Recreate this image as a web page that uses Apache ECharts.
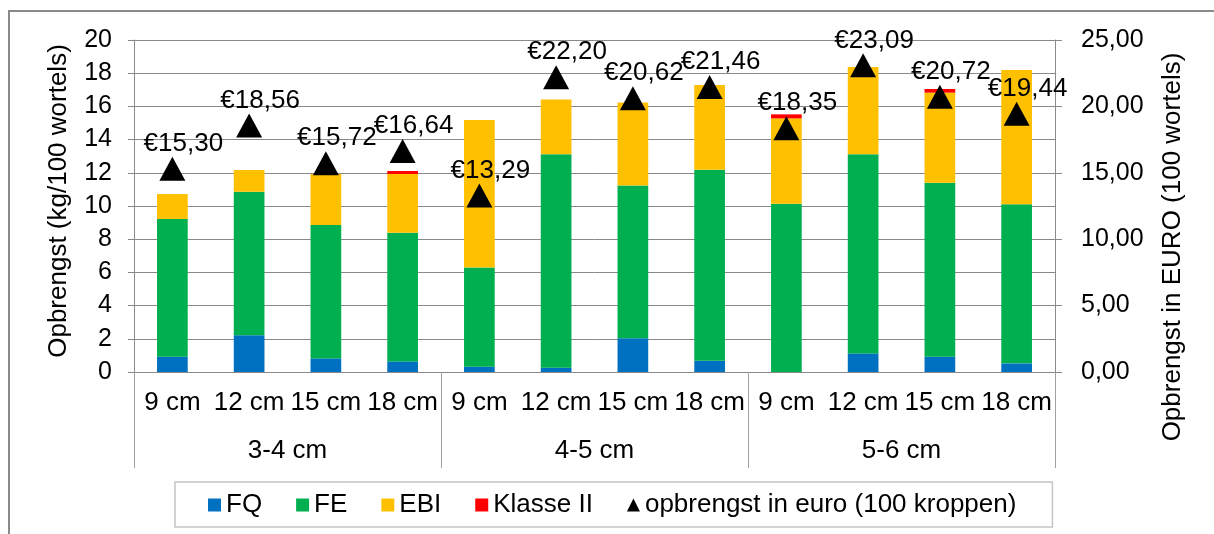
<!DOCTYPE html>
<html>
<head>
<meta charset="utf-8">
<script src="https://cdn.jsdelivr.net/npm/echarts@6/dist/echarts.min.js"></script>
<style>
  html, body { margin: 0; padding: 0; background: #fff; }
  #wrap { position: relative; width: 1214px; height: 534px; overflow: hidden; }
  #chart { position: absolute; left: 0; top: 0; width: 1214px; height: 534px; }
  #frame { position: absolute; left: 8px; top: 10px; width: 1400px; height: 700px;
           border-left: 2px solid #8a8a8a; border-top: 2px solid #8a8a8a; pointer-events: none; }
</style>
</head>
<body>
<div id="wrap"><div id="chart"></div><div id="frame"></div></div>
<script>
// ---- data ----
const subCategories = ['9 cm', '12 cm', '15 cm', '18 cm', '9 cm', '12 cm', '15 cm', '18 cm', '9 cm', '12 cm', '15 cm', '18 cm'];
const groupCategories = ['3-4 cm', '4-5 cm', '5-6 cm'];
const fqValues = [0.92, 2.21, 0.82, 0.64, 0.32, 0.26, 2.03, 0.68, 0.00, 1.12, 0.92, 0.52];
const feValues = [8.30, 8.65, 8.04, 7.75, 5.97, 12.85, 9.20, 11.51, 10.14, 11.99, 10.48, 9.58];
const ebiValues = [1.50, 1.31, 3.07, 3.54, 8.89, 3.31, 5.00, 5.10, 5.14, 5.26, 5.43, 8.09];
const klasse2Values = [0, 0, 0, 0.18, 0, 0, 0, 0, 0.24, 0, 0.22, 0];
const euroValues = [15.30, 18.56, 15.72, 16.64, 13.29, 22.20, 20.62, 21.46, 18.35, 23.09, 20.72, 19.44];
const seriesNames = ['FQ', 'FE', 'EBI', 'Klasse II', 'opbrengst in euro (100 kroppen)'];

// ---- chart ----
const FONT = 'Liberation Sans, Arial, sans-serif';
const GRID = '#898989';
const chart = echarts.init(document.getElementById('chart'), null, { renderer: 'canvas' });
const fmtComma = v => v.toFixed(2).replace('.', ',');

const barSeries = (name, data, color) => ({
  name, type: 'bar', stack: 'total', data, xAxisIndex: 0, yAxisIndex: 0,
  barWidth: '40%', itemStyle: { color }, emphasis: { disabled: true }
});

chart.setOption({
  animation: false,
  textStyle: { fontFamily: FONT, color: '#000' },
  grid: { left: 134, right: 159, top: 40, bottom: 162, containLabel: false },
  legend: {
    left: 175, top: 482,
    padding: [10, 36, 9, 33],
    itemGap: 34, itemWidth: 13, itemHeight: 13,
    borderColor: '#c4c4c4', borderWidth: 1.5,
    textStyle: { fontSize: 26, fontFamily: FONT, color: '#000' },
    data: [
      { name: seriesNames[0], icon: 'rect' },
      { name: seriesNames[1], icon: 'rect' },
      { name: seriesNames[2], icon: 'rect' },
      { name: seriesNames[3], icon: 'rect' },
      { name: seriesNames[4], icon: 'triangle' }
    ]
  },
  xAxis: [
    {
      type: 'category', data: subCategories, position: 'bottom',
      axisLine: { show: true, lineStyle: { color: GRID, width: 1 } },
      axisTick: { show: false },
      axisLabel: { interval: 0, fontSize: 26, margin: 18, color: '#000', fontFamily: FONT }
    },
    {
      type: 'category', data: groupCategories, position: 'bottom',
      axisLine: { show: false },
      axisTick: { show: true, length: 96, lineStyle: { color: '#a0a0a0', width: 1 } },
      axisLabel: { interval: 0, fontSize: 26, margin: 66, color: '#000', fontFamily: FONT },
      splitLine: { show: false }
    }
  ],
  yAxis: [
    {
      type: 'value', min: 0, max: 20, interval: 2,
      name: 'Opbrengst (kg/100 wortels)', nameLocation: 'middle', nameGap: 62,
      nameTextStyle: { fontSize: 26, color: '#000', fontFamily: FONT, padding: [0, 0, 0, 10] },
      axisLine: { show: true, lineStyle: { color: GRID } },
      axisTick: { show: true, length: 6, lineStyle: { color: GRID } },
      axisLabel: { fontSize: 25, margin: 22, color: '#000', fontFamily: FONT },
      splitLine: { show: true, lineStyle: { color: GRID, width: 1 } }
    },
    {
      type: 'value', min: 0, max: 25, interval: 5, position: 'right',
      name: 'Opbrengst in EURO (100 wortels)', nameLocation: 'middle', nameGap: 105, nameRotate: 90,
      nameTextStyle: { fontSize: 26, color: '#000', fontFamily: FONT, padding: [0, 82, 0, 0] },
      axisLine: { show: true, lineStyle: { color: GRID } },
      axisTick: { show: true, length: 7, lineStyle: { color: GRID } },
      axisLabel: { fontSize: 25, margin: 26, color: '#000', fontFamily: FONT, formatter: fmtComma },
      splitLine: { show: false }
    }
  ],
  series: [
    barSeries(seriesNames[0], fqValues, '#0070C0'),
    barSeries(seriesNames[1], feValues, '#00B050'),
    barSeries(seriesNames[2], ebiValues, '#FFC000'),
    barSeries(seriesNames[3], klasse2Values, '#FF0000'),
    {
      name: seriesNames[4], type: 'scatter', data: euroValues, xAxisIndex: 0, yAxisIndex: 1,
      symbol: 'triangle', symbolSize: [26, 24], itemStyle: { color: '#000', opacity: 1 },
      emphasis: { disabled: true }, z: 5,
      label: {
        show: true, position: 'top', distance: 0, offset: [11, 0],
        fontSize: 26, color: '#000', opacity: 1, fontFamily: FONT,
        formatter: p => '€' + fmtComma(p.value)
      }
    }
  ]
});
</script>
</body>
</html>
